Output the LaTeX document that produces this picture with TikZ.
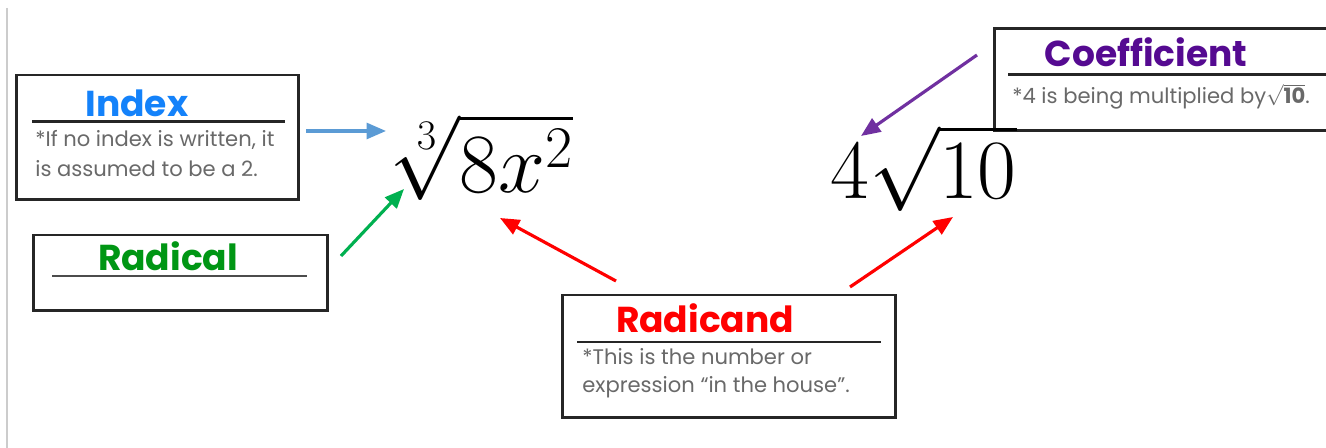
\RequirePackage{fix-cm}
\documentclass[tikz,border=0pt]{standalone}
\usepackage{fontspec}
\setmainfont{Poppins}
\usetikzlibrary{arrows.meta}
\definecolor{tblue}{RGB}{20,130,250}
\definecolor{tgreen}{RGB}{0,150,20}
\definecolor{tred}{RGB}{255,0,0}
\definecolor{tpurple}{RGB}{85,10,145}
\definecolor{ablue}{RGB}{91,155,213}
\definecolor{agreen}{RGB}{0,176,80}
\definecolor{ared}{RGB}{255,0,0}
\definecolor{apurple}{RGB}{112,48,160}
\definecolor{body}{RGB}{105,105,105}
\tikzset{
  box/.style={draw=black!85, line width=1.7pt, inner sep=0pt},
  ttl/.style={font=\fontsize{20.5}{24}\selectfont\bfseries, inner sep=0pt, anchor=base},
  bodytxt/.style={font=\fontsize{12}{16}\selectfont, text=body, anchor=base west, inner sep=0pt},
  rule/.style={line width=1.7pt, black!85},
  arr/.style={line width=1.8pt, -{Triangle[length=11pt,width=9pt]}},
  mathexpr/.style={font=\fontsize{48}{56}\selectfont, inner sep=0pt}
}
\begin{document}
\begin{tikzpicture}[x=0.02cm,y=-0.02cm]
\useasboundingbox (0,0) rectangle (1326,448);
\fill[white] (0,0) rectangle (1326,448);
\draw[black!20, line width=0.8pt] (7,8) -- (7,448);
% boxes
\node[box, minimum width=5.66cm, minimum height=2.5cm] (indexbox) at (157.5,137.5) {};
\node[box, minimum width=5.9cm, minimum height=1.52cm] (radbox) at (180.5,273) {};
\node[box, minimum width=6.68cm, minimum height=2.46cm] (randbox) at (729,356.5) {};
\node[box, minimum width=7cm, minimum height=2.04cm, anchor=north west] (coefbox) at (993,27) {};
% titles
\node[ttl, text=tblue] (indext) at (137,117) {Index};
\node[ttl, text=tgreen] (radt) at (168,271) {Radical};
\node[ttl, text=tred] (randt) at (705,333) {Radicand};
\node[ttl, text=tpurple] (coeft) at (1146,67) {Coefficient};
% rules
\coordinate (ia) at (32,122); \coordinate (ib) at (285,122);
\draw[rule] (ia) -- (ib);
\coordinate (ra) at (52,276); \coordinate (rb) at (307,276);
\draw[line width=1.2pt, black!70] (ra) -- (rb);
\coordinate (da) at (577,342); \coordinate (db) at (881,342);
\draw[rule] (da) -- (db);
\coordinate (ca) at (1008,75); \coordinate (cb) at (1326,75);
\draw[rule] (ca) -- (cb);
% body texts
\node[bodytxt] (indexb1) at (35,147) {*If no index is written, it};
\node[bodytxt] (indexb2) at (35,177) {is assumed to be a 2.};
\node[bodytxt] (randb1) at (582,365) {*This is the number or};
\node[bodytxt] (randb2) at (582,393) {expression “in the house”.};
\node[bodytxt] (coefb) at (1012,104) {*4 is being multiplied by$\sqrt{\mathbf{10}}$.};
% math
\node[mathexpr, anchor=west] (m1) at (393,157) {$\sqrt[3]{8x^2}$};
\node[mathexpr, anchor=west] (m2) at (830,168) {$4\sqrt{10}$};
% arrow anchors
\coordinate (bs) at (306,131); \coordinate (be) at (386,131);
\coordinate (gs) at (341,256); \coordinate (ge) at (404,189);
\coordinate (r1s) at (616,281); \coordinate (r1e) at (500,218);
\coordinate (r2s) at (850,287); \coordinate (r2e) at (953,217);
\coordinate (ps) at (977,55); \coordinate (pe) at (861,136);
\draw[arr, ablue] (bs) -- (be);
\draw[arr, agreen] (gs) -- (ge);
\draw[arr, ared] (r1s) -- (r1e);
\draw[arr, ared] (r2s) -- (r2e);
\draw[arr, apurple] (ps) -- (pe);
\end{tikzpicture}
\end{document}
